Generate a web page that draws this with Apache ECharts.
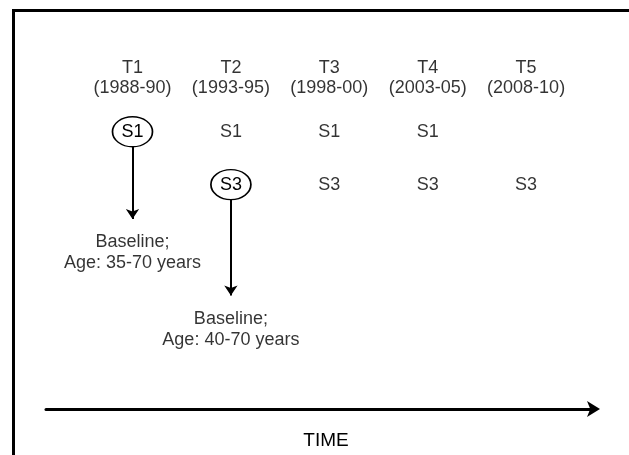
<!DOCTYPE html>
<html>
<head>
<meta charset="utf-8">
<script src="https://cdn.jsdelivr.net/npm/echarts@6/dist/echarts.min.js"></script>
<style>
  html, body { margin: 0; padding: 0; background: #fff; }
  #chart { width: 629px; height: 455px; }
</style>
</head>
<body>
<div id="chart"></div>
<script>
// 数据
const periods = ['T1', 'T2', 'T3', 'T4', 'T5']
const years = ['(1988-90)', '(1993-95)', '(1998-00)', '(2003-05)', '(2008-10)']
const s1Waves = [1, 2, 3, 4]        // S1 出现的时间点
const s3Waves = [2, 3, 4, 5]        // S3 出现的时间点
const baselineStudies = ['S1', 'S3']
const baselineWaves = [1, 2]
const baselineAges = ['35-70', '40-70']

// 行位置（纵轴层级）
const ROW_HEADER = 0
const studyRow = { S1: 1.02, S3: 2.02 }
const arrowEnd = [2.67, 4.12]
const baselineRow = [3.31, 4.76]

const font = { fontFamily: 'Liberation Sans', fontSize: 18, color: '#000' }

const headerData = periods.map((p, i) => ({
  value: [i + 1, ROW_HEADER],
  label: { formatter: p + '\n' + years[i] }
}))

// 普通文字（未圈出的）
const plainData = []
s1Waves.forEach(w => {
  if (baselineWaves[0] !== w) plainData.push({ value: [w, studyRow.S1], label: { formatter: 'S1' } })
})
s3Waves.forEach(w => {
  if (baselineWaves[1] !== w) plainData.push({ value: [w, studyRow.S3], label: { formatter: 'S3' } })
})

// 圈出的基线
const circledData = baselineStudies.map((s, i) => ({
  value: [baselineWaves[i], studyRow[s]],
  label: { formatter: s }
}))

const arrowData = baselineStudies.map((s, i) => ({
  coords: [[baselineWaves[i], studyRow[s]], [baselineWaves[i], arrowEnd[i]]]
}))

const baselineText = baselineStudies.map((s, i) => ({
  value: [baselineWaves[i], baselineRow[i]],
  label: { formatter: 'Baseline;\nAge: ' + baselineAges[i] + ' years' }
}))

const chart = echarts.init(document.getElementById('chart'), null, { renderer: 'canvas' })
chart.setOption({
  animation: false,
  backgroundColor: '#fff',
  graphic: [{
    type: 'rect',
    shape: { x: 13.5, y: 10.5, width: 700, height: 600 },
    style: { fill: 'none', stroke: '#000', lineWidth: 3 },
    z: 0
  }],
  grid: { left: 46, right: 35, top: 51.5, bottom: 44.5 },
  xAxis: {
    type: 'value',
    min: 0.121,
    max: 5.69,
    name: 'TIME',
    nameLocation: 'middle',
    nameGap: 22,
    nameTextStyle: { fontFamily: 'Liberation Sans', fontSize: 19, color: '#000', padding: [0, 0, 0, 12] },
    axisLine: {
      show: true,
      onZero: false,
      symbol: ['none', 'arrow'],
      symbolSize: [12, 13],
      symbolOffset: [0, 6],
      lineStyle: { color: '#000', width: 3 }
    },
    axisTick: { show: false },
    axisLabel: { show: false },
    splitLine: { show: false }
  },
  yAxis: {
    type: 'value',
    inverse: true,
    min: -0.5,
    max: 6.27,
    show: false
  },
  series: [
    {
      type: 'lines',
      coordinateSystem: 'cartesian2d',
      z: 1,
      symbol: ['none', 'arrow'],
      symbolSize: 10,
      lineStyle: { color: '#000', width: 2, opacity: 1 },
      data: arrowData
    },
    {
      type: 'scatter',
      z: 3,
      symbol: 'circle',
      symbolSize: [40, 30],
      itemStyle: { color: '#fff', borderColor: '#000', borderWidth: 1.5, opacity: 1 },
      label: { show: true, position: 'inside', ...font },
      data: circledData
    },
    {
      type: 'scatter',
      z: 3,
      symbolSize: 1,
      itemStyle: { color: 'rgba(0,0,0,0)' },
      label: { show: true, position: 'inside', lineHeight: 20, ...font },
      data: headerData.concat(plainData)
    },
    {
      type: 'scatter',
      z: 3,
      symbolSize: 1,
      itemStyle: { color: 'rgba(0,0,0,0)' },
      label: { show: true, position: 'inside', lineHeight: 21, ...font },
      data: baselineText
    }
  ]
})
window.addEventListener('resize', () => chart.resize())
</script>
</body>
</html>
